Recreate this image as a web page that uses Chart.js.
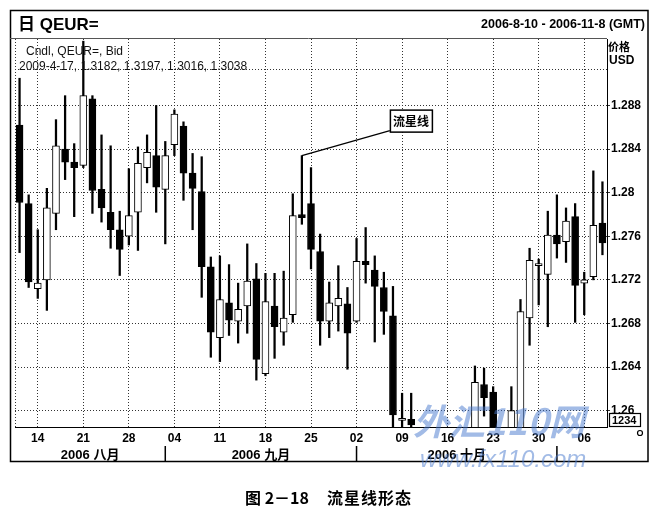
<!DOCTYPE html>
<html>
<head>
<meta charset="utf-8">
<script src="https://cdn.jsdelivr.net/npm/chart.js@4.4.1/dist/chart.umd.min.js"></script>
<style>
  html, body { margin: 0; padding: 0; background: #fff; }
  canvas { display: block; }
</style>
</head>
<body>
<canvas id="chart" width="656" height="516"></canvas>
<script>
// trading days 2006-08-10 .. 2006-11-08
const dates = [
  '08-10','08-11','08-14','08-15','08-16','08-17','08-18','08-21','08-22','08-23','08-24','08-25',
  '08-28','08-29','08-30','08-31','09-01','09-04','09-05','09-06','09-07','09-08','09-11','09-12',
  '09-13','09-14','09-15','09-18','09-19','09-20','09-21','09-22','09-25','09-26','09-27','09-28',
  '09-29','10-02','10-03','10-04','10-05','10-06','10-09','10-10','10-11','10-12','10-13','10-16',
  '10-17','10-18','10-19','10-20','10-23','10-24','10-25','10-26','10-27','10-30','10-31','11-01',
  '11-02','11-03','11-06','11-07','11-08'
];
const open = [
  1.2862,1.2790,1.2712,1.2720,1.2781,1.2840,1.2828,1.2825,1.2886,1.2803,1.2782,1.2766,
  1.2760,1.2782,1.2823,1.2834,1.2803,1.2844,1.2861,1.2818,1.2801,1.2732,1.2667,1.2699,
  1.2682,1.2696,1.2721,1.2634,1.2696,1.2672,1.2688,1.2780,1.2790,1.2746,1.2682,1.2696,
  1.2698,1.2682,1.2737,1.2729,1.2713,1.2687,1.2591,1.2592,1.2578,1.2545,1.2560,1.2510,
  1.2540,1.2550,1.2570,1.2624,1.2617,1.2565,1.2570,1.2580,1.2685,1.2733,1.2725,1.2761,
  1.2755,1.2778,1.2717,1.2723,1.2772
];
const high = [
  1.2905,1.2798,1.2766,1.2804,1.2867,1.2889,1.2845,1.2939,1.2889,1.2853,1.2843,1.2783,
  1.2822,1.2842,1.2853,1.2880,1.2847,1.2876,1.2865,1.2836,1.2833,1.2741,1.2742,1.2734,
  1.2717,1.2753,1.2735,1.2726,1.2726,1.2728,1.2799,1.2834,1.2823,1.2762,1.2718,1.2733,
  1.2713,1.2758,1.2768,1.2742,1.2727,1.2714,1.2616,1.2616,1.2584,1.2570,1.2578,1.2555,
  1.2575,1.2580,1.2641,1.2639,1.2622,1.2580,1.2622,1.2702,1.2749,1.2739,1.2783,1.2798,
  1.2786,1.2790,1.2727,1.2820,1.2810
];
const low = [
  1.2745,1.2713,1.2703,1.2692,1.2766,1.2812,1.2778,1.2823,1.2781,1.2773,1.2749,1.2724,
  1.2752,1.2747,1.2809,1.2782,1.2753,1.2834,1.2793,1.2766,1.2704,1.2649,1.2645,1.2669,
  1.2662,1.2671,1.2628,1.2632,1.2648,1.2660,1.2681,1.2771,1.2730,1.2660,1.2667,1.2673,
  1.2638,1.2681,1.2717,1.2663,1.2670,1.2584,1.2580,1.2575,1.2530,1.2520,1.2500,1.2490,
  1.2515,1.2530,1.2560,1.2595,1.2555,1.2545,1.2560,1.2572,1.2660,1.2697,1.2677,1.2740,
  1.2736,1.2681,1.2688,1.2720,1.2743
];
const close = [
  1.2791,1.2718,1.2717,1.2786,1.2843,1.2828,1.2823,1.2889,1.2802,1.2786,1.2766,1.2748,
  1.2779,1.2827,1.2837,1.2805,1.2834,1.2872,1.2818,1.2804,1.2732,1.2672,1.2702,1.2683,
  1.2693,1.2719,1.2647,1.2700,1.2677,1.2685,1.2779,1.2777,1.2748,1.2682,1.2699,1.2703,
  1.2671,1.2737,1.2734,1.2714,1.2691,1.2596,1.2593,1.2587,1.2545,1.2560,1.2510,1.2540,
  1.2550,1.2570,1.2626,1.2612,1.2565,1.2570,1.2600,1.2691,1.2738,1.2734,1.2761,1.2753,
  1.2774,1.2715,1.2720,1.2770,1.2754
];

const yTicks = [1.26, 1.264, 1.268, 1.272, 1.276, 1.28, 1.284, 1.288];
const yTickLabels = ['1.26', '1.264', '1.268', '1.272', '1.276', '1.28', '1.284', '1.288'];
const xTickDates = ['08-14','08-21','08-28','09-04','09-11','09-18','09-25','10-02','10-09','10-16','10-23','10-30','11-06'];
const xTickLabels = ['14','21','28','04','11','18','25','02','09','16','23','30','06'];
const monthLabels = ['2006 八月', '2006 九月', '2006 十月'];
const monthBreaks = ['09-01', '10-02', '11-01'];
const starIndex = dates.indexOf('09-22');

const LATIN = '"Liberation Sans", Arial, "Noto Sans CJK SC", sans-serif';
const CJK = '"Noto Sans CJK SC", "Liberation Sans", sans-serif';

const decor = {
  id: 'decor',
  beforeDatasetsDraw(chart) {
    const { ctx, chartArea: a } = chart;
    ctx.save();
    ctx.strokeStyle = '#333';
    ctx.lineWidth = 1;
    ctx.setLineDash([1, 2]);
    ctx.beginPath();
    ctx.moveTo(a.left + 0.5, a.top);
    ctx.lineTo(a.left + 0.5, a.bottom);
    ctx.moveTo(a.left, a.top + 30.5);
    ctx.lineTo(a.right, a.top + 30.5);
    ctx.stroke();
    ctx.restore();
  },
  afterDraw(chart) {
    const { ctx, chartArea: a, scales: { x, y } } = chart;
    ctx.save();

    // outer frame and header rule
    ctx.strokeStyle = '#000';
    ctx.lineWidth = 1.5;
    ctx.strokeRect(10.5, 10.5, 637.5, 451);
    ctx.strokeStyle = '#555';
    ctx.lineWidth = 1;
    ctx.beginPath();
    ctx.moveTo(10, a.top - 0.5);
    ctx.lineTo(a.right, a.top - 0.5);
    ctx.stroke();

    // header
    ctx.fillStyle = '#000';
    ctx.textBaseline = 'middle';
    ctx.textAlign = 'left';
    ctx.font = 'bold 17px ' + LATIN;
    ctx.fillText('日 QEUR=', 18, 25);
    ctx.textAlign = 'right';
    ctx.font = 'bold 12.5px ' + LATIN;
    ctx.fillText('2006-8-10 - 2006-11-8 (GMT)', 645, 25);

    // legend lines
    ctx.textAlign = 'left';
    ctx.fillStyle = '#111';
    ctx.font = '12px ' + LATIN;
    ctx.fillText('Cndl, QEUR=, Bid', 26, 52);
    ctx.fillText('2009-4-17, 1.3182, 1.3197, 1.3016, 1.3038', 19, 67);

    // price axis caption
    ctx.fillStyle = '#000';
    ctx.font = 'bold 11px ' + CJK;
    ctx.fillText('价格', 608, 47);
    ctx.font = 'bold 12px ' + LATIN;
    ctx.fillText('USD', 609, 61);

    // last price box and marker
    ctx.lineWidth = 1.2;
    ctx.strokeStyle = '#000';
    ctx.strokeRect(609.5, 413.5, 31, 13);
    ctx.font = 'bold 11px ' + LATIN;
    ctx.fillText('1234', 612, 420.5);
    ctx.beginPath();
    ctx.arc(640, 433, 2.5, 0, Math.PI * 2);
    ctx.stroke();

    // month row
    const seps = monthBreaks.map(d => x.getPixelForValue(dates.indexOf(d)));
    ctx.lineWidth = 1.5;
    ctx.beginPath();
    seps.forEach(p => { ctx.moveTo(p, 446); ctx.lineTo(p, 461); });
    ctx.stroke();
    const bounds = [a.left].concat(seps);
    ctx.textAlign = 'center';
    ctx.font = 'bold 13px ' + LATIN;
    monthLabels.forEach((m, i) => {
      ctx.fillText(m, (bounds[i] + bounds[i + 1]) / 2, 455);
    });

    // shooting star annotation
    const sx = x.getPixelForValue(starIndex);
    const sy = y.getPixelForValue(high[starIndex]);
    const bx = sx + 88, by = sy - 46;
    ctx.lineWidth = 1.2;
    ctx.beginPath();
    ctx.moveTo(sx, sy);
    ctx.lineTo(bx, by + 21);
    ctx.stroke();
    ctx.fillStyle = '#fff';
    ctx.fillRect(bx, by, 42, 22);
    ctx.lineWidth = 1.5;
    ctx.strokeRect(bx + 0.5, by + 0.5, 42, 22);
    ctx.fillStyle = '#000';
    ctx.font = 'bold 12px ' + CJK;
    ctx.fillText('流星线', bx + 21, by + 11.5);

    // watermark
    ctx.fillStyle = 'rgba(70, 120, 205, 0.5)';
    ctx.textAlign = 'left';
    ctx.font = 'italic bold 36px ' + CJK;
    ctx.fillText('外汇110网', 413, 421);
    ctx.font = 'italic 24px ' + LATIN;
    ctx.fillText('www.fx110.com', 420, 460);

    // caption
    ctx.fillStyle = '#000';
    ctx.font = 'bold 16px ' + CJK;
    ctx.fillText('图 2－18', 245, 498);
    ctx.letterSpacing = '1px';
    ctx.fillText('流星线形态', 327, 498);
    ctx.restore();
  }
};

new Chart(document.getElementById('chart'), {
  type: 'bar',
  data: {
    labels: dates,
    datasets: [
      {
        label: 'body',
        data: dates.map((d, i) => [open[i], close[i]]),
        backgroundColor: dates.map((d, i) => close[i] >= open[i] ? '#fff' : '#000'),
        borderColor: '#000',
        borderWidth: 1,
        borderSkipped: false,
        barThickness: 7,
        minBarLength: 2,
        grouped: false,
        order: 0
      },
      {
        label: 'wick',
        data: dates.map((d, i) => [low[i], high[i]]),
        backgroundColor: '#000',
        barThickness: 1.6,
        grouped: false,
        order: 1
      }
    ]
  },
  options: {
    responsive: false,
    animation: false,
    layout: { padding: { left: 15, right: 8, top: 39, bottom: 0 } },
    plugins: {
      legend: { display: false },
      tooltip: { enabled: false }
    },
    scales: {
      x: {
        offset: true,
        grid: {
          offset: false,
          drawTicks: false,
          color: c => xTickDates.includes(dates[c.index]) ? '#333' : 'rgba(0,0,0,0)'
        },
        border: { color: '#000', width: 1, dash: [1, 2] },
        ticks: {
          autoSkip: false,
          maxRotation: 0,
          padding: 4,
          color: '#000',
          font: { family: LATIN, size: 12, weight: 'bold' },
          callback: (v, i) => {
            const k = xTickDates.indexOf(dates[i]);
            return k >= 0 ? xTickLabels[k] : '';
          }
        },
        afterFit: s => { s.height = 89; }
      },
      y: {
        position: 'right',
        min: 1.2585,
        max: 1.2941,
        afterBuildTicks: s => { s.ticks = yTicks.map(v => ({ value: v })); },
        grid: { color: '#333', tickLength: 3 },
        border: { color: '#000', width: 1, dash: [1, 2] },
        ticks: {
          padding: 1,
          color: '#000',
          font: { family: LATIN, size: 12, weight: 'bold' },
          callback: (v, i) => yTickLabels[i]
        },
        afterFit: s => { s.width = 41; }
      }
    }
  },
  plugins: [decor]
});
</script>
</body>
</html>
